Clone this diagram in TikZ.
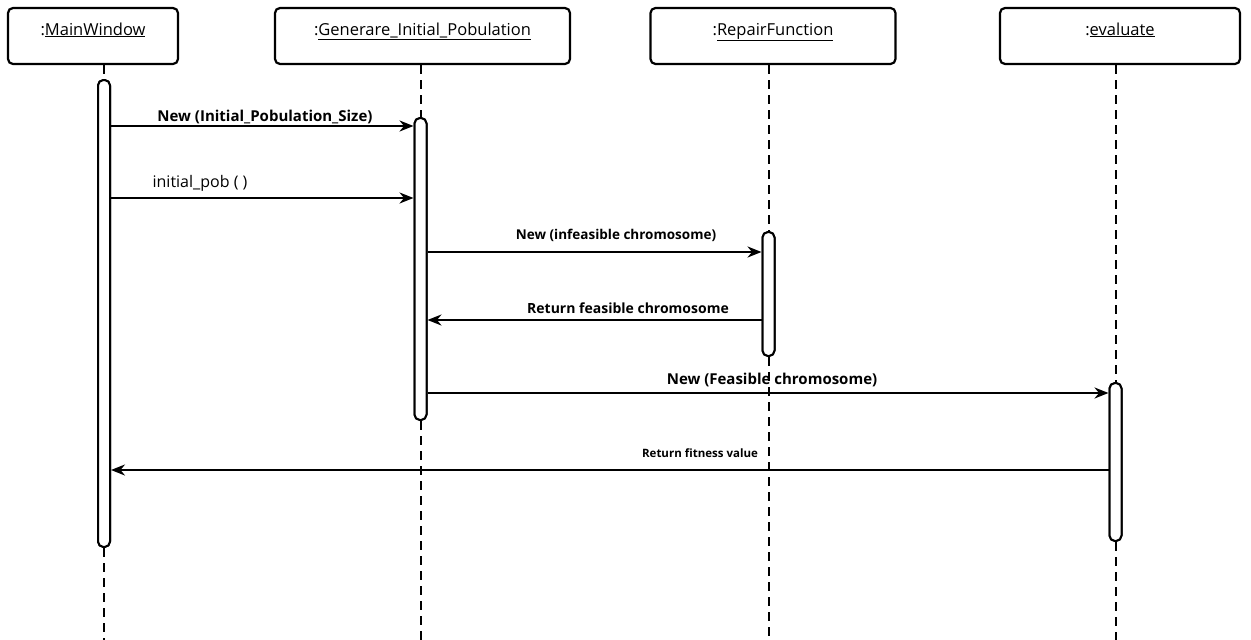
\documentclass[tikz,border=0pt]{standalone}
\usepackage{fontspec}
\setmainfont{Open Sans}
\usetikzlibrary{arrows.meta}
\begin{document}
\begin{tikzpicture}[x=1pt,y=-1pt,
  obj/.style={draw,line width=2.2pt,rounded corners=5pt,minimum height=56pt,inner sep=0pt,
    text height=12pt,text depth=14pt,font=\fontsize{16.5}{18}\selectfont},
  life/.style={line width=2pt,dash pattern=on 9pt off 6pt},
  actbar/.style={draw,line width=2pt,rounded corners=5.5pt,fill=white,minimum width=12pt,inner sep=0pt},
  msg/.style={line width=2pt,-{Stealth[length=14pt,width=11pt]}},
  lbl/.style={font=\bfseries\fontsize{14}{16}\selectfont,inner sep=0pt},
]
\useasboundingbox (0,0) rectangle (1251,640);

% participants
\node[obj,minimum width=170pt] (mw)  at (93,36)    {:\underline{MainWindow}};
\node[obj,minimum width=295pt] (gen) at (422.5,36) {:\underline{Generare\_Initial\_Pobulation}};
\node[obj,minimum width=245pt] (rep) at (773,36)   {:\underline{RepairFunction}};
\node[obj,minimum width=240pt] (ev)  at (1120,36)  {:\underline{evaluate}};

% activation bars (placed first, redrawn over the lifelines)
\node[actbar,minimum height=467pt] (b1) at (104,313.5) {};
\node[actbar,minimum height=302pt] (b2) at (420.5,269) {};
\node[actbar,minimum height=124pt] (b3) at (768.5,294) {};
\node[actbar,minimum height=158pt] (b4) at (1115.5,462) {};

% lifeline ends
\coordinate (e1) at (104,640);
\coordinate (e2) at (420.5,640);
\coordinate (e3) at (768.5,640);
\coordinate (e4) at (1115.5,640);

% lifelines
\draw[life] (b1.north |- mw.south) -- (b1.north);
\draw[life] (b1.south) -- (e1);
\draw[life] (b2.north |- gen.south) -- (b2.north);
\draw[life] (b2.south) -- (e2);
\draw[life] (b3.north |- rep.south) -- (b3.north);
\draw[life] (b3.south) -- (e3);
\draw[life] (b4.north |- ev.south) -- (b4.north);
\draw[life] (b4.south) -- (e4);

\node[actbar,minimum height=467pt] at (b1) {};
\node[actbar,minimum height=302pt] at (b2) {};
\node[actbar,minimum height=124pt] at (b3) {};
\node[actbar,minimum height=158pt] at (b4) {};

% messages
\draw[msg] (b1.east |- 0,126) -- (b2.west |- 0,126);
\node[lbl,font=\bfseries\fontsize{15}{16}\selectfont] (l1) at (265,117) {New (Initial\_Pobulation\_Size)};

\draw[msg] (b1.east |- 0,198) -- (b2.west |- 0,198);
\node[font=\fontsize{16}{18}\selectfont,inner sep=0pt] (l2) at (200,183) {initial\_pob ( )};

\draw[msg] (b2.east |- 0,252) -- (b3.west |- 0,252);
\node[lbl,font=\bfseries\fontsize{13.5}{16}\selectfont] (l3) at (616,235) {New (infeasible chromosome)};

\draw[msg] (b3.west |- 0,320) -- (b2.east |- 0,320);
\node[lbl] (l4) at (628,308) {Return feasible chromosome};

\draw[msg] (b2.east |- 0,393) -- (b4.west |- 0,393);
\node[lbl,font=\bfseries\fontsize{15}{16}\selectfont] (l5) at (772,380) {New (Feasible chromosome)};

\draw[msg] (b4.west |- 0,470) -- (b1.east |- 0,470);
\node[lbl,font=\bfseries\fontsize{11.5}{12}\selectfont] (l6) at (700,453) {Return fitness value};
\end{tikzpicture}
\end{document}
